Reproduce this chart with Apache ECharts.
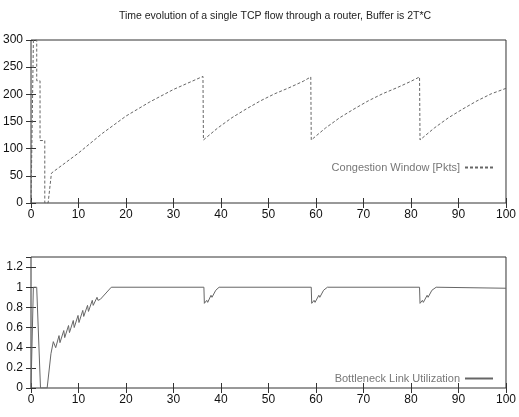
<!DOCTYPE html>
<html>
<head>
<meta charset="utf-8">
<script src="https://cdn.jsdelivr.net/npm/echarts@6/dist/echarts.min.js"></script>
<style>
  html, body { margin: 0; padding: 0; background: #fff; }
  #chart { width: 519px; height: 417px; }
</style>
</head>
<body>
<div id="chart"></div>
<script>
// congestion window (packets) vs time (s)
const cwndT = [0, 0.4, 0.5, 1.2, 1.2, 1.9, 1.9, 2.9, 2.9, 3.6, 4.3,
  10, 15, 20, 25, 30, 36.2,
  36.3, 39.3, 42.3, 45.3, 48.3, 51.3, 54.3, 57.3, 58.9,
  59.0, 62, 65, 68, 71, 74, 77, 80, 81.8,
  81.9, 84.9, 87.9, 90.9, 93.9, 96.9, 100]
const cwndV = [0, 0, 300, 300, 225, 225, 115, 115, 0, 0, 55,
  92, 128, 160, 186, 209, 233,
  116, 138, 157, 173, 188, 201, 212, 224, 232,
  116, 138, 157, 173, 188, 201, 212, 224, 232,
  116, 138, 157, 173, 188, 201, 211]

// bottleneck link utilization vs time (s)
const utilT = [0, 0.4, 0.5, 1.2, 2.0, 3.4, 4.2, 4.7,
  5.2, 5.9, 6.1, 6.9, 7.1, 7.9, 8.1, 8.9, 9.1, 9.9, 10.1, 10.9, 11.1, 11.9, 12.1, 12.9, 13.1, 13.9, 14.1, 14.6, 16.9,
  36.4, 36.5, 37.0, 37.2, 37.9, 38.1, 38.9, 39.1, 39.6,
  59.0, 59.1, 59.6, 59.8, 60.6, 60.8, 61.6, 61.8, 62.4,
  81.8, 81.9, 82.4, 82.6, 83.4, 83.6, 84.4, 84.6, 85.3, 100]
const utilV = [0, 0, 1, 1, 0, 0, 0.34, 0.46,
  0.40, 0.52, 0.45, 0.57, 0.50, 0.62, 0.55, 0.67, 0.60, 0.72, 0.65, 0.77, 0.71, 0.82, 0.76, 0.87, 0.82, 0.90, 0.87, 0.88, 1.0,
  1.0, 0.84, 0.87, 0.85, 0.92, 0.90, 0.97, 0.96, 1.0,
  1.0, 0.84, 0.87, 0.85, 0.92, 0.90, 0.97, 0.96, 1.0,
  1.0, 0.84, 0.87, 0.85, 0.92, 0.90, 0.97, 0.96, 1.0, 0.99]

const xTicks = [0, 10, 20, 30, 40, 50, 60, 70, 80, 90, 100]

const font = '"Liberation Sans", Arial, sans-serif'
const frame = '#333'

function bottomX(grid) {
  return {
    gridIndex: grid, type: 'value', min: 0, max: 100, interval: 10, position: 'bottom',
    axisLine: { show: false },
    axisTick: { inside: true, length: 5, lineStyle: { color: frame } },
    splitLine: { show: false },
    axisLabel: { fontFamily: font, fontSize: 12, color: '#111', margin: 6,
      formatter: v => xTicks.includes(v) ? String(v) : '' }
  }
}
function topX(grid) {
  return {
    gridIndex: grid, type: 'value', min: 0, max: 100, interval: 10, position: 'top',
    axisLine: { show: false },
    axisTick: { inside: true, length: 5, lineStyle: { color: frame } },
    splitLine: { show: false }, axisLabel: { show: false }
  }
}
function leftY(grid, max, interval, fmt) {
  return {
    gridIndex: grid, type: 'value', min: 0, max: max, interval: interval, position: 'left',
    axisLine: { show: false },
    axisTick: { inside: true, length: 5, lineStyle: { color: frame } },
    splitLine: { show: false },
    axisLabel: { fontFamily: font, fontSize: 12, color: '#111', margin: 8, showMaxLabel: fmt ? false : true,
      formatter: fmt || (v => String(v)) }
  }
}
function rightY(grid, max, interval) {
  return {
    gridIndex: grid, type: 'value', min: 0, max: max, interval: interval, position: 'right',
    axisLine: { show: false },
    axisTick: { inside: true, length: 5, lineStyle: { color: frame } },
    splitLine: { show: false }, axisLabel: { show: false }
  }
}

const chart = echarts.init(document.getElementById('chart'), null, { renderer: 'canvas' })
chart.setOption({
  animation: false,
  backgroundColor: '#fff',
  title: {
    text: 'Time evolution of a single TCP flow through a router, Buffer is 2T*C',
    left: 270, top: 6, textAlign: 'center',
    textStyle: { fontFamily: font, fontSize: 10.5, fontWeight: 'normal', color: '#222' }
  },
  grid: [
    { left: 31, top: 40, width: 478, height: 163, show: true, borderColor: frame, borderWidth: 1 },
    { left: 31, top: 257, width: 479, height: 131, show: true, borderColor: frame, borderWidth: 1 }
  ],
  legend: [
    { data: ['Congestion Window [Pkts]'], right: 20, top: 157, align: 'right',
      itemWidth: 28, itemHeight: 8, itemGap: 8,
      itemStyle: { opacity: 0 },
      textStyle: { fontFamily: font, fontSize: 11, color: '#777' } },
    { data: ['Bottleneck Link Utilization'], right: 20, top: 368, align: 'right',
      itemWidth: 28, itemHeight: 8, itemGap: 8,
      itemStyle: { opacity: 0 },
      textStyle: { fontFamily: font, fontSize: 11, color: '#777' } }
  ],
  xAxis: [bottomX(0), topX(0), bottomX(1), topX(1)],
  yAxis: [
    leftY(0, 300, 50), rightY(0, 300, 50),
    leftY(1, 1.3, 0.2, v => (v > 1.25 ? '' : String(Math.round(v * 10) / 10))), rightY(1, 1.3, 0.2)
  ],
  series: [
    {
      name: 'Congestion Window [Pkts]', type: 'line', xAxisIndex: 0, yAxisIndex: 0,
      data: cwndT.map((t, i) => [t, cwndV[i]]),
      showSymbol: false, symbol: 'none', clip: true,
      lineStyle: { color: '#666', width: 1, type: [3, 2] },
      itemStyle: { color: '#666' }
    },
    {
      name: 'Bottleneck Link Utilization', type: 'line', xAxisIndex: 2, yAxisIndex: 2,
      data: utilT.map((t, i) => [t, utilV[i]]),
      showSymbol: false, symbol: 'none', clip: true,
      lineStyle: { color: '#666', width: 1 },
      itemStyle: { color: '#666' }
    }
  ]
})
</script>
</body>
</html>
